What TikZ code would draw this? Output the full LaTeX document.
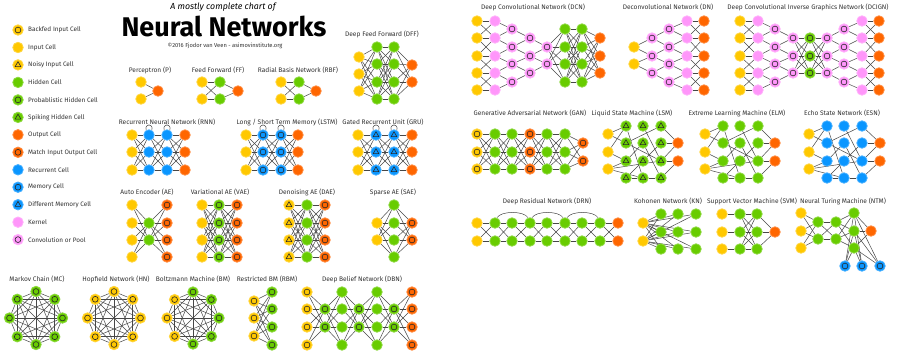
\documentclass[tikz,border=0pt]{standalone}
\usepackage{fontspec}
\setmainfont{Fira Sans}
\pgfdeclarelayer{bg}
\pgfsetlayers{bg,main}
\definecolor{cY}{RGB}{255,200,0}
\definecolor{cG}{RGB}{104,204,0}
\definecolor{cO}{RGB}{255,102,0}
\definecolor{cB}{RGB}{10,150,255}
\definecolor{cK}{RGB}{255,150,250}
\definecolor{symc}{RGB}{40,40,40}
\definecolor{txt}{RGB}{50,50,50}
\tikzset{
  cell/.style={circle, minimum size=10.5pt, inner sep=0pt, line width=0.8pt},
  ring/.style={path picture={\draw[line width=0.6pt, symc] (path picture bounding box.center) circle[radius=2.9pt];}},
  tri/.style={path picture={\draw[line width=0.6pt, symc, line join=round]
      ([shift={(90:3.3pt)}]path picture bounding box.center) --
      ([shift={(210:3.3pt)}]path picture bounding box.center) --
      ([shift={(330:3.3pt)}]path picture bounding box.center) -- cycle;}},
  inp/.style={cell, fill=cY, draw=cY!75!white},
  bfin/.style={inp, ring},
  noisy/.style={inp, tri},
  hid/.style={cell, fill=cG, draw=cG!75!white},
  prob/.style={hid, ring},
  spike/.style={hid, tri},
  outp/.style={cell, fill=cO, draw=cO!75!white},
  match/.style={outp, ring},
  rec/.style={cell, fill=cB, draw=cB!75!white},
  mem/.style={rec, ring},
  dmem/.style={rec, tri},
  kern/.style={cell, fill=cK, draw=cK!75!white},
  conv/.style={kern, ring},
  edge/.style={draw=black!72, line width=0.5pt},
  lab/.style={font=\fontsize{6.6}{7.5}\selectfont, text=txt, inner sep=0pt},
  leg/.style={font=\fontsize{6.4}{7.5}\selectfont, text=txt, inner sep=0pt, anchor=west},
}
\newcommand\colm[4]{\foreach \yy [count=\k] in {#4}{\node[#3] (#1-\k) at (#2,\yy) {};}}
\newcommand\fullc[4]{\foreach \i in {1,...,#2}{\foreach \j in {1,...,#4}{\draw[edge] (#1-\i) -- (#3-\j);}}}
\newcommand\xcon[3]{\foreach \i in {1,...,#3}{\foreach \j in {1,...,#3}{\pgfmathtruncatemacro\xdiff{abs(\i-\j)}\ifnum\xdiff<2 \draw[edge] (#1-\i) -- (#2-\j);\fi}}}
\newcommand\dcon[3]{\foreach \j [evaluate=\j as \jj using int(\j+1)] in {1,...,#3}{\draw[edge] (#1-\j) -- (#2-\j); \draw[edge] (#1-\jj) -- (#2-\j);}}
\newcommand\scon[3]{\foreach \j in {1,...,#3}{\draw[edge] (#1-\j) -- (#2-\j);}}
\newcommand\sparse[1]{\foreach \a/\b in {0-1/1-1, 0-1/1-2, 0-2/1-1, 0-2/1-3, 0-3/1-3, 0-3/2-4, 0-3/3-3, 1-1/2-4, 1-2/3-1, 1-2/3-3, 1-3/2-2, 1-4/2-4, 1-4/2-3, 2-1/3-3, 2-2/3-4, 2-3/3-2, 2-4/3-4, 3-1/4-1, 3-2/4-1, 3-3/4-1, 3-3/4-2, 3-4/4-2}{\draw[edge] (#1\a) -- (#1\b);}}
\newcommand\selfloop[1]{\draw[edge] (#1.120) .. controls +(-2pt,7pt) and +(2pt,7pt) .. (#1.60);}
\newcommand\compl[1]{\foreach \i in {1,...,8}{\foreach \j in {1,...,8}{\ifnum\i<\j \draw[edge] (#1-\i) -- (#1-\j);\fi}}}
\begin{document}
\begin{tikzpicture}[x=1pt,y=-1pt]
\begin{pgfonlayer}{bg}
\fill[white] (0,0) rectangle (897,351);
\end{pgfonlayer}
\useasboundingbox (0,0) rectangle (897,351);
% titles
\node[font=\itshape\fontsize{8.8}{10}\selectfont, text=black, inner sep=0pt] (t1) at (223,7) {A mostly complete chart of};
\node[font=\bfseries\fontsize{27}{29}\selectfont, text=black, inner sep=0pt] (t2) at (224,26) {Neural Networks};
\node[font=\fontsize{5.75}{7}\selectfont, text=txt, inner sep=0pt] (t3) at (225,46) {©2016 Fjodor van Veen - asimovinstitute.org};
% legend
\node[bfin] (lg0) at (18,30.0) {};   \node[leg] (lt0) at (28,30.0) {Backfed Input Cell};
\node[inp] (lg1) at (18,47.5) {};    \node[leg] (lt1) at (28,47.5) {Input Cell};
\node[noisy] (lg2) at (18,64.9) {};  \node[leg] (lt2) at (28,64.9) {Noisy Input Cell};
\node[hid] (lg3) at (18,82.4) {};    \node[leg] (lt3) at (28,82.4) {Hidden Cell};
\node[prob] (lg4) at (18,99.9) {};   \node[leg] (lt4) at (28,99.9) {Probablistic Hidden Cell};
\node[spike] (lg5) at (18,117.4) {}; \node[leg] (lt5) at (28,117.4) {Spiking Hidden Cell};
\node[outp] (lg6) at (18,134.8) {};  \node[leg] (lt6) at (28,134.8) {Output Cell};
\node[match] (lg7) at (18,152.3) {}; \node[leg] (lt7) at (28,152.3) {Match Input Output Cell};
\node[rec] (lg8) at (18,169.8) {};   \node[leg] (lt8) at (28,169.8) {Recurrent Cell};
\node[mem] (lg9) at (18,187.2) {};   \node[leg] (lt9) at (28,187.2) {Memory Cell};
\node[dmem] (lg10) at (18,204.7) {}; \node[leg] (lt10) at (28,204.7) {Different Memory Cell};
\node[kern] (lg11) at (18,222.2) {}; \node[leg] (lt11) at (28,222.2) {Kernel};
\node[conv] (lg12) at (18,239.6) {}; \node[leg] (lt12) at (28,239.6) {Convolution or Pool};
% labels
\node[lab] (L1) at (150,70) {Perceptron (P)};
\node[lab] (L2) at (218,70) {Feed Forward (FF)};
\node[lab] (L3) at (298,70) {Radial Basis Network (RBF)};
\node[lab] (L4) at (382,34) {Deep Feed Forward (DFF)};
\node[lab] (L5) at (167,122) {Recurrent Neural Network (RNN)};
\node[lab] (L6) at (287,122) {Long / Short Term Memory (LSTM)};
\node[lab] (L7) at (383,122) {Gated Recurrent Unit (GRU)};
\node[lab] (L8) at (147,192) {Auto Encoder (AE)};
\node[lab] (L9) at (220,192) {Variational AE (VAE)};
\node[lab] (L10) at (307,192) {Denoising AE (DAE)};
\node[lab] (L11) at (393,192) {Sparse AE (SAE)};
\node[lab] (L12) at (37,279) {Markov Chain (MC)};
\node[lab] (L13) at (116,279) {Hopfield Network (HN)};
\node[lab] (L14) at (193,279) {Boltzmann Machine (BM)};
\node[lab] (L15) at (267,279) {Restricted BM (RBM)};
\node[lab] (L16) at (362,279) {Deep Belief Network (DBN)};
\node[lab] (L17) at (533,7) {Deep Convolutional Network (DCN)};
\node[lab] (L18) at (668,7) {Deconvolutional Network (DN)};
\node[lab] (L19) at (808,7) {Deep Convolutional Inverse Graphics Network (DCIGN)};
\node[lab] (L20) at (530,113) {Generative Adversarial Network (GAN)};
\node[lab] (L21) at (632,113) {Liquid State Machine (LSM)};
\node[lab] (L22) at (737,113) {Extreme Learning Machine (ELM)};
\node[lab] (L23) at (842,113) {Echo State Network (ESN)};
\node[lab] (L24) at (547,201) {Deep Residual Network (DRN)};
\node[lab] (L25) at (668,201) {Kohonen Network (KN)};
\node[lab] (L26) at (752,201) {Support Vector Machine (SVM)};
\node[lab] (L27) at (843,201) {Neural Turing Machine (NTM)};
% P FF RBF DFF
\colm{p0}{141}{inp}{82,99} \colm{p1}{158}{outp}{91}
\colm{ff0}{202}{inp}{82,99} \colm{ff1}{220}{hid}{82,99} \colm{ff2}{238}{outp}{91}
\colm{rbf0}{281}{inp}{82,99} \colm{rbf1}{299}{hid}{82,99} \colm{rbf2}{316}{outp}{91}
\colm{dff0}{359}{inp}{57,74,91} \colm{dff1}{377}{hid}{47,64,82,99} \colm{dff2}{394}{hid}{47,64,82,99} \colm{dff3}{412}{outp}{65,82}
% RNN LSTM GRU
\colm{rnn0}{132}{inp}{135,152,170} \colm{rnn1}{149}{rec}{135,152,170} \colm{rnn2}{167}{rec}{135,152,170} \colm{rnn3}{185}{outp}{135,152,170}
\colm{lstm0}{246}{inp}{135,152,170} \colm{lstm1}{263}{mem}{135,152,170} \colm{lstm2}{281}{mem}{135,152,170} \colm{lstm3}{298}{outp}{135,152,170}
\colm{gru0}{358}{inp}{135,152,170} \colm{gru1}{376}{dmem}{135,152,170} \colm{gru2}{394}{dmem}{135,152,170} \colm{gru3}{412}{outp}{135,152,170}
% AE VAE DAE SAE
\colm{ae0}{132}{inp}{205,223,240,257} \colm{ae1}{149}{hid}{223,240} \colm{ae2}{167}{match}{205,223,240,257}
\colm{vae0}{202}{inp}{205,223,240,257} \colm{vae1}{219}{prob}{205,223,240,257} \colm{vae2}{237}{match}{205,223,240,257}
\colm{dae0}{289}{noisy}{205,223,240,257} \colm{dae1}{307}{hid}{205,223,240,257} \colm{dae2}{325}{match}{205,223,240,257}
\colm{sae0}{377}{inp}{223,240} \colm{sae1}{394}{hid}{205,223,240,257} \colm{sae2}{412}{match}{223,240}
% MC HN BM
\foreach \a [count=\k] in {90,45,0,315,270,225,180,135}{\node[prob] (mc-\k) at ({36+26.5*cos(\a)},{318-26.5*sin(\a)}) {};}
\foreach \a [count=\k] in {90,45,0,315,270,225,180,135}{\node[bfin] (hn-\k) at ({114+26.5*cos(\a)},{318-26.5*sin(\a)}) {};}
\foreach \a [count=\k] in {90,45,0,315,270}{\node[prob] (bm-\k) at ({193+26*cos(\a)},{318-26*sin(\a)}) {};}
\foreach \a [count=\k from 6] in {225,180,135}{\node[bfin] (bm-\k) at ({193+26*cos(\a)},{318-26*sin(\a)}) {};}
% RBM DBN
\colm{rbm0}{254}{bfin}{301,318,336} \colm{rbm1}{272}{prob}{292,309,327,345}
\colm{dbn0}{307}{bfin}{292,309,327,345} \colm{dbn1}{325}{prob}{309,327} \colm{dbn2}{342}{hid}{292,309,327,345}
\colm{dbn3}{359}{prob}{309,327} \colm{dbn4}{377}{hid}{292,309,327,345} \colm{dbn5}{394}{prob}{309,327} \colm{dbn6}{412}{match}{292,309,327,345}
% DCN DN DCIGN
\colm{dcn0}{477}{inp}{21,38,56,73,90} \colm{dcn1}{495}{kern}{21,38,56,73,90} \colm{dcn2}{512}{conv}{29,47,64,82}
\colm{dcn3}{530}{conv}{38,56,73} \colm{dcn4}{547}{conv}{47,64} \colm{dcn5}{565}{hid}{29,47,64,82} \colm{dcn6}{582}{hid}{29,47,64,82} \colm{dcn7}{600}{outp}{38,56,73}
\colm{dn0}{634}{inp}{47,64} \colm{dn1}{652}{conv}{38,56,73} \colm{dn2}{669}{conv}{29,47,64,82} \colm{dn3}{687}{kern}{21,38,56,73,90} \colm{dn4}{704}{outp}{21,38,56,73,90}
\colm{dci0}{740}{inp}{21,38,56,73,90} \colm{dci1}{758}{kern}{21,38,56,73,90} \colm{dci2}{775}{conv}{29,47,64,82} \colm{dci3}{793}{conv}{38,56,73}
\colm{dci4}{810}{prob}{38,56,73} \colm{dci5}{827}{conv}{38,56,73} \colm{dci6}{844}{conv}{29,47,64,82} \colm{dci7}{862}{kern}{21,38,56,73,90} \colm{dci8}{879}{outp}{21,38,56,73,90}
% GAN LSM ELM ESN
\colm{gan0}{477}{bfin}{134,152,169} \colm{gan1}{495}{hid}{134,152,169} \colm{gan2}{512}{hid}{134,152,169} \colm{gan3}{530}{match}{134,152,169}
\colm{gan4}{547}{hid}{134,152,169} \colm{gan5}{565}{hid}{134,152,169} \colm{gan6}{583}{match}{143,161}
\colm{lsm0}{608}{inp}{134,152,169} \colm{lsm1}{626}{spike}{126,143,161,178} \colm{lsm2}{643}{spike}{126,143,161,178} \colm{lsm3}{661}{spike}{126,143,161,178} \colm{lsm4}{678}{outp}{143,161}
\colm{elm0}{705}{inp}{134,152,169} \colm{elm1}{723}{hid}{126,143,161,178} \colm{elm2}{740}{hid}{126,143,161,178} \colm{elm3}{758}{hid}{126,143,161,178} \colm{elm4}{775}{outp}{143,161}
\colm{esn0}{809}{inp}{134,152,169} \colm{esn1}{827}{rec}{126,143,161,178} \colm{esn2}{844}{rec}{126,143,161,178} \colm{esn3}{862}{rec}{126,143,161,178} \colm{esn4}{880}{outp}{143,161}
% DRN KN SVM NTM
\colm{drn0}{477}{inp}{223,241}
\foreach \x [count=\c] in {495,512,530,547,565,582,600}{\colm{drn\c}{\x}{hid}{223,241}}
\colm{drn8}{618}{outp}{223,241}
\colm{kn0}{643}{inp}{223,241} \colm{kn1}{661}{hid}{214,232,249} \colm{kn2}{678}{hid}{214,232,249} \colm{kn3}{696}{hid}{214,232,249}
\colm{svm0}{722}{inp}{214,232,249} \colm{svm1}{740}{hid}{214,232,249} \colm{svm2}{757}{hid}{214,232,249} \colm{svm3}{775}{outp}{232}
\colm{ntm0}{801}{inp}{213,231,248} \colm{ntm1}{818}{hid}{222,239} \colm{ntm2}{836}{hid}{222,239} \colm{ntm3}{854}{hid}{213,231,248} \colm{ntm4}{871}{outp}{231}
\node[mem] (ntm5-1) at (845,266) {}; \node[mem] (ntm5-2) at (862,266) {}; \node[mem] (ntm5-3) at (880,266) {};
% ---------------- edges ----------------
\begin{pgfonlayer}{bg}
\fullc{p0}{2}{p1}{1}
\fullc{ff0}{2}{ff1}{2} \fullc{ff1}{2}{ff2}{1}
\fullc{rbf0}{2}{rbf1}{2} \fullc{rbf1}{2}{rbf2}{1}
\fullc{dff0}{3}{dff1}{4} \fullc{dff1}{4}{dff2}{4} \fullc{dff2}{4}{dff3}{2}
\fullc{rnn0}{3}{rnn1}{3} \fullc{rnn1}{3}{rnn2}{3} \fullc{rnn2}{3}{rnn3}{3}
\fullc{lstm0}{3}{lstm1}{3} \fullc{lstm1}{3}{lstm2}{3} \fullc{lstm2}{3}{lstm3}{3}
\fullc{gru0}{3}{gru1}{3} \fullc{gru1}{3}{gru2}{3} \fullc{gru2}{3}{gru3}{3}
\selfloop{rnn1-1} \selfloop{rnn2-1} \selfloop{lstm1-1} \selfloop{lstm2-1} \selfloop{gru1-1} \selfloop{gru2-1}
\fullc{ae0}{4}{ae1}{2} \fullc{ae1}{2}{ae2}{4}
\fullc{vae0}{4}{vae1}{4} \fullc{vae1}{4}{vae2}{4}
\fullc{dae0}{4}{dae1}{4} \fullc{dae1}{4}{dae2}{4}
\fullc{sae0}{2}{sae1}{4} \fullc{sae1}{4}{sae2}{2}
\compl{mc} \compl{hn} \compl{bm}
\fullc{rbm0}{3}{rbm1}{4}
\fullc{dbn0}{4}{dbn1}{2} \fullc{dbn1}{2}{dbn2}{4} \fullc{dbn2}{4}{dbn3}{2} \fullc{dbn3}{2}{dbn4}{4} \fullc{dbn4}{4}{dbn5}{2} \fullc{dbn5}{2}{dbn6}{4}
\xcon{dcn0}{dcn1}{5} \dcon{dcn1}{dcn2}{4} \dcon{dcn2}{dcn3}{3} \dcon{dcn3}{dcn4}{2}
\fullc{dcn4}{2}{dcn5}{4} \fullc{dcn5}{4}{dcn6}{4} \fullc{dcn6}{4}{dcn7}{3}
\dcon{dn1}{dn0}{2} \dcon{dn2}{dn1}{3} \dcon{dn3}{dn2}{4} \xcon{dn3}{dn4}{5}
\xcon{dci0}{dci1}{5} \dcon{dci1}{dci2}{4} \dcon{dci2}{dci3}{3} \fullc{dci3}{3}{dci4}{3} \fullc{dci4}{3}{dci5}{3}
\dcon{dci6}{dci5}{3} \dcon{dci7}{dci6}{4} \xcon{dci7}{dci8}{5}
\fullc{gan0}{3}{gan1}{3} \fullc{gan1}{3}{gan2}{3} \fullc{gan2}{3}{gan3}{3} \fullc{gan3}{3}{gan4}{3} \fullc{gan4}{3}{gan5}{3} \fullc{gan5}{3}{gan6}{2}
\sparse{lsm} \sparse{elm} \sparse{esn}
\foreach \c [evaluate=\c as \d using int(\c+1)] in {0,...,7}{\fullc{drn\c}{2}{drn\d}{2}}
\draw[edge] (drn1-1.70) .. controls +(4pt,7pt) and +(-4pt,7pt) .. (drn3-1.110);
\draw[edge] (drn3-1.70) .. controls +(4pt,7pt) and +(-4pt,7pt) .. (drn5-1.110);
\draw[edge] (drn5-1.70) .. controls +(4pt,7pt) and +(-4pt,7pt) .. (drn7-1.110);
\fullc{kn0}{2}{kn1}{3} \fullc{kn0}{2}{kn2}{3} \fullc{kn0}{2}{kn3}{3}
\scon{svm0}{svm1}{3} \fullc{svm1}{3}{svm2}{3} \fullc{svm2}{3}{svm3}{1}
\fullc{ntm0}{3}{ntm1}{2} \fullc{ntm1}{2}{ntm2}{2} \fullc{ntm2}{2}{ntm3}{3} \fullc{ntm3}{3}{ntm4}{1} \fullc{ntm3}{3}{ntm5}{3}
\end{pgfonlayer}
\end{tikzpicture}
\end{document}
